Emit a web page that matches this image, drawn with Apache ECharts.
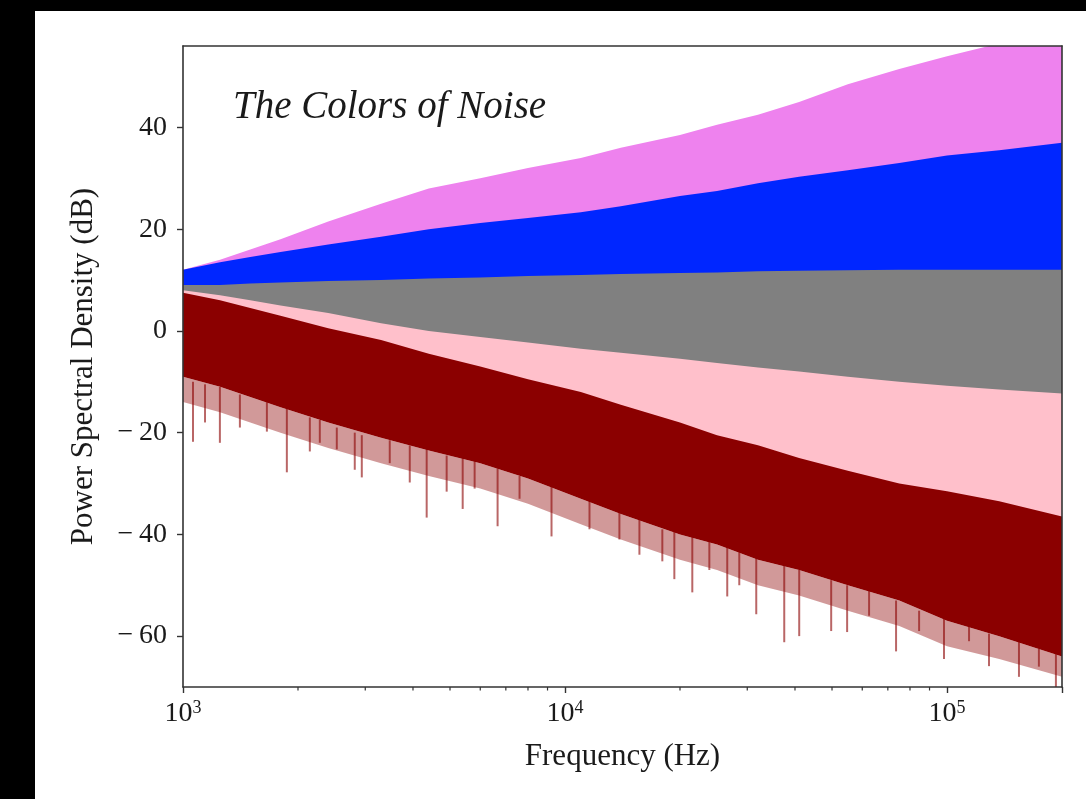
<!DOCTYPE html>
<html>
<head>
<meta charset="utf-8">
<script src="https://cdn.jsdelivr.net/npm/echarts@6/dist/echarts.min.js"></script>
<style>
  html, body { margin: 0; padding: 0; background: #000; }
  #chart { position: absolute; left: 35px; top: 11px; width: 1051px; height: 788px; background: #fff; }
</style>
</head>
<body>
<div id="chart"></div>
<script>
const freqGrid = [1000, 1250, 1500, 1800, 2400, 3300, 4400, 6000, 8000, 11000, 14000, 20000, 25000, 32000, 41000, 55000, 75000, 100000, 137000, 200000];

// band edges in dB (top = visible upper edge, bottom = lower edge, mostly hidden)
const violetTop = [12, 14, 16, 18, 21.5, 25, 28, 30, 32, 34, 36, 38.5, 40.5, 42.5, 45, 48.5, 51.5, 54, 56.5, 60];
const violetBottom = [9, 10.5, 11.5, 12.5, 14, 15.5, 17, 18, 19, 20, 21.5, 23.5, 24.5, 26, 27, 28.5, 30, 31.5, 32.5, 34];
const blueTop = [12, 13.5, 14.5, 15.5, 17, 18.5, 20, 21.2, 22.2, 23.3, 24.5, 26.5, 27.5, 29, 30.3, 31.6, 33, 34.5, 35.5, 37];
const blueBottom = [6, 6, 6.3, 6.5, 6.8, 7, 7.3, 7.5, 7.8, 8, 8.2, 8.4, 8.5, 8.7, 8.8, 8.9, 9, 9, 9, 9];
const grayTop = [9, 9, 9.3, 9.5, 9.8, 10, 10.3, 10.5, 10.8, 11, 11.2, 11.4, 11.5, 11.7, 11.8, 11.9, 12, 12, 12, 12];
const grayBottom = [5, 4, 3, 2, 0.5, -1.5, -3, -4.2, -5.3, -6.5, -7.3, -8.5, -9.3, -10.2, -11, -12, -13, -13.8, -14.5, -15.3];
const pinkTop = [8, 7, 6, 5, 3.5, 1.5, 0, -1.2, -2.3, -3.5, -4.3, -5.5, -6.3, -7.2, -8, -9, -10, -10.8, -11.5, -12.3];
const pinkBottom = [4.5, 3, 1.5, 0, -2.5, -4.8, -7.5, -10, -12.5, -15, -17.5, -21, -23.5, -25.5, -28, -30.5, -33, -34.5, -36.5, -39.5];
const darkredTop = [7.5, 6, 4.5, 3, 0.5, -1.8, -4.5, -7, -9.5, -12, -14.5, -18, -20.5, -22.5, -25, -27.5, -30, -31.5, -33.5, -36.5];
const darkredBottom = [-9, -11, -13, -15, -18, -21, -23.5, -26, -29, -33, -36, -40, -42, -45, -47, -50, -53, -57, -60, -64];
const darkredFringe = [-14, -16, -18, -20, -23, -26, -28.5, -31, -34, -38, -41, -45, -47, -50, -52, -55, -58, -62, -64.5, -68];

// deep downward spikes of the darkred band
const spikeFreq = [1062, 1142, 1249, 1409, 1658, 1870, 2148, 2281, 2527, 2816, 2938, 3477, 3923, 4344, 4900, 5397, 5800, 6661, 7603, 9219, 11590, 13880, 15660, 17980, 19330, 21540, 23870, 26590, 28590, 31670, 37490, 41030, 49750, 54770, 62520, 73560, 84520, 98220, 114200, 128800, 154300, 174000, 192800];
const spikeTip = [-21.8, -18, -22, -19, -19.8, -27.8, -23.7, -22, -23.3, -27.3, -28.8, -26, -29.8, -36.7, -31.6, -35, -31, -38.4, -33, -40.4, -39, -41, -44, -45.3, -48.8, -51.4, -47, -52.2, -50, -55.7, -61.2, -60, -59, -59.2, -56, -63, -59, -64.5, -61, -65.9, -68, -66, -70];
const spikeBase = [-10, -10.5, -11, -12.5, -14, -15, -17, -17.5, -19, -20, -20.5, -21.5, -22.5, -23, -24.5, -25, -25.5, -27, -28.5, -30.5, -33, -35.5, -37, -39, -39.5, -40.5, -41.5, -42.5, -43.5, -44.5, -46, -47, -49, -50, -51, -53, -55, -56.5, -58, -59.5, -61, -62.5, -63.5];

// axes
const xMin = 1000, xMax = 200000;
const yMin = -70, yMax = 56;
const yTicks = [-60, -40, -20, 0, 20, 40];
const minorTickFreq = [2000, 3000, 4000, 5000, 6000, 7000, 8000, 9000, 20000, 30000, 40000, 50000, 60000, 70000, 80000, 90000];

const FONT = '"Liberation Serif", "DejaVu Serif", serif';
const TEXT = '#1a1a1a';
const SPINE = '#333';

const chart = echarts.init(document.getElementById('chart'));

// filled band between an upper and a lower edge
function band(name, color, top, bottom, z) {
  return {
    type: 'custom',
    name: name,
    z: z,
    silent: true,
    clip: true,
    data: [[freqGrid[0], top[0]]],
    renderItem: function (params, api) {
      const pts = [];
      for (let i = 0; i < freqGrid.length; i++) pts.push(api.coord([freqGrid[i], top[i]]));
      for (let i = freqGrid.length - 1; i >= 0; i--) pts.push(api.coord([freqGrid[i], bottom[i]]));
      return { type: 'polygon', shape: { points: pts }, style: { fill: color } };
    }
  };
}

const option = {
  animation: false,
  grid: { left: 148, right: 24, top: 35, bottom: 112, show: false },
  graphic: [{
    type: 'text',
    left: 198,
    top: 77,
    style: { text: 'The Colors of Noise', font: 'italic 39px ' + FONT, fill: TEXT }
  }],
  xAxis: [{
    type: 'log',
    logBase: 10,
    min: xMin,
    max: xMax,
    z: 10,
    name: 'Frequency (Hz)',
    nameLocation: 'middle',
    nameGap: 54,
    nameTextStyle: { fontFamily: FONT, fontSize: 31, color: TEXT },
    axisLine: { show: true, onZero: false, lineStyle: { color: SPINE, width: 1.6 } },
    axisTick: { show: true, inside: false, length: 6, lineStyle: { color: SPINE, width: 1.4 } },
    minorTick: { show: false },
    splitLine: { show: false },
    axisLabel: {
      margin: 12,
      formatter: function (v) {
        const e = Math.log10(v);
        if (Math.abs(e - Math.round(e)) > 1e-6) return '';
        return '{b|10}{s|' + Math.round(e) + '}';
      },
      rich: {
        b: { fontFamily: FONT, fontSize: 28, lineHeight: 30, color: TEXT },
        s: { fontFamily: FONT, fontSize: 18, lineHeight: 18, color: TEXT, verticalAlign: 'top' }
      }
    }
  }, {
    type: 'log',
    logBase: 10,
    min: xMin,
    max: xMax,
    position: 'top',
    z: 10,
    axisLine: { show: true, onZero: false, lineStyle: { color: SPINE, width: 1.6 } },
    axisTick: { show: false },
    axisLabel: { show: false },
    splitLine: { show: false }
  }],
  yAxis: [{
    type: 'value',
    min: yMin,
    max: yMax,
    z: 10,
    name: 'Power Spectral Density (dB)',
    nameLocation: 'middle',
    nameGap: 84,
    nameTextStyle: { fontFamily: FONT, fontSize: 31, color: TEXT },
    axisLine: { show: true, onZero: false, lineStyle: { color: SPINE, width: 1.6 } },
    axisTick: { show: true, inside: false, length: 6, customValues: yTicks, lineStyle: { color: SPINE, width: 1.4 } },
    splitLine: { show: false },
    axisLabel: {
      margin: 16,
      customValues: yTicks,
      fontFamily: FONT,
      fontSize: 28,
      color: TEXT,
      formatter: function (v) { return v < 0 ? '\u2212\u2009' + (-v) : String(v); }
    }
  }, {
    type: 'value',
    min: yMin,
    max: yMax,
    position: 'right',
    z: 10,
    axisLine: { show: true, onZero: false, lineStyle: { color: SPINE, width: 1.6 } },
    axisTick: { show: false },
    axisLabel: { show: false },
    splitLine: { show: false }
  }],
  series: [
    band('violet', '#ee82ee', violetTop, violetBottom, 1),
    band('blue', '#0026ff', blueTop, blueBottom, 2),
    band('white', '#808080', grayTop, grayBottom, 3),
    band('pink', '#ffc0cb', pinkTop, pinkBottom, 4),
    band('brown fringe', 'rgba(139,0,0,0.4)', darkredBottom, darkredFringe, 5),
    {
      type: 'custom',
      name: 'brown spikes',
      z: 5,
      silent: true,
      clip: true,
      data: spikeFreq.map(function (f, i) { return [f, spikeTip[i], spikeBase[i]]; }),
      renderItem: function (params, api) {
        const a = api.coord([api.value(0), api.value(2)]);
        const b = api.coord([api.value(0), api.value(1)]);
        return {
          type: 'line',
          shape: { x1: a[0], y1: a[1], x2: b[0], y2: b[1] },
          style: { stroke: 'rgba(139,0,0,0.6)', lineWidth: 2 }
        };
      }
    },
    band('brown', '#8b0000', darkredTop, darkredBottom, 6),
    {
      type: 'custom',
      name: 'minor ticks',
      z: 10,
      silent: true,
      clip: false,
      data: minorTickFreq.map(function (f) { return [f, yMin]; }),
      renderItem: function (params, api) {
        const p = api.coord([api.value(0), yMin]);
        return {
          type: 'line',
          shape: { x1: p[0], y1: p[1], x2: p[0], y2: p[1] + 3.5 },
          style: { stroke: SPINE, lineWidth: 1.2 }
        };
      }
    }
  ]
};

chart.setOption(option);
</script>
</body>
</html>
